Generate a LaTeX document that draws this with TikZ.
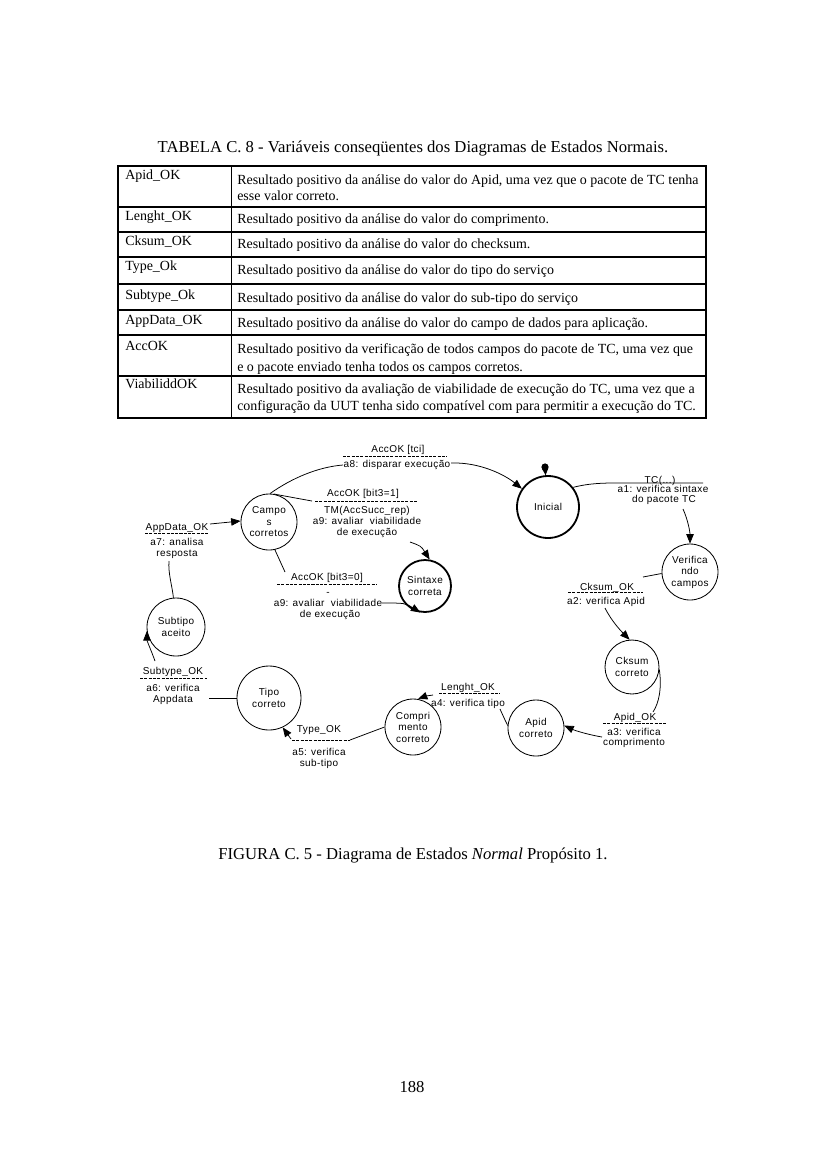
\documentclass[tikz,border=0pt]{standalone}
\usepackage{fontspec}
\setmainfont{Liberation Serif}
\newfontfamily\dgfont[LetterSpace=4]{Liberation Sans}
\usetikzlibrary{arrows.meta}
\begin{document}
\begin{tikzpicture}[x=0.72pt,y=-0.72pt,
  dg/.style={font=\dgfont\fontsize{7.2}{8.3}\selectfont},
  st/.style={circle,draw,line width=0.6pt,inner sep=0pt,minimum size=#1*1.44pt,dg,align=center},
  stb/.style={st=#1,line width=1.3pt},
  lb/.style={dg,inner sep=0pt,anchor=base},
  sepl/.style={line width=0.45pt,dash pattern=on 2.2pt off 0.9pt},
  tr/.style={line width=0.55pt},
  arr/.style={tr,-{Triangle[length=6.8pt,width=5.4pt]}},
  tb/.style={font=\fontsize{10.05}{11}\selectfont,inner sep=0pt,anchor=base west},
  captxt/.style={font=\fontsize{12}{14}\selectfont,inner sep=0pt}]
\useasboundingbox (0,0) rectangle (826,1169);

% ---------- table ----------
\node[captxt] (title) at (413,148) {TABELA C. 8 - Variáveis conseqüentes dos Diagramas de Estados Normais.};
\draw[line width=0.8pt] (118,166) rectangle (706,418);
\draw[line width=0.6pt] (231,166) -- (231,418);
\foreach \yy in {207,232,257,284,310,335,376}
  \draw[line width=0.8pt] (118,\yy) -- (706,\yy);
\node[tb] (k1) at (125,179) {Apid\_OK};
\node[tb] (k2) at (125,220) {Lenght\_OK};
\node[tb] (k3) at (125,245) {Cksum\_OK};
\node[tb] (k4) at (125,270) {Type\_Ok};
\node[tb] (k5) at (125,299) {Subtype\_Ok};
\node[tb] (k6) at (125,324) {AppData\_OK};
\node[tb] (k7) at (125,350) {AccOK};
\node[tb] (k8) at (125,388) {ViabiliddOK};
\node[tb] (d1a) at (237,184) {Resultado positivo da análise do valor do Apid, uma vez que o pacote de TC tenha};
\node[tb] (d1b) at (237,200) {esse valor correto.};
\node[tb] (d2) at (237,223) {Resultado positivo da análise do valor do comprimento.};
\node[tb] (d3) at (237,248) {Resultado positivo da análise do valor do checksum.};
\node[tb] (d4) at (237,274) {Resultado positivo da análise do valor do tipo do serviço};
\node[tb] (d5) at (237,302) {Resultado positivo da análise do valor do sub-tipo do serviço};
\node[tb] (d6) at (237,327) {Resultado positivo da análise do valor do campo de dados para aplicação.};
\node[tb] (d7a) at (237,353) {Resultado positivo da verificação de todos campos do pacote de TC, uma vez que};
\node[tb] (d7b) at (237,371) {e o pacote enviado tenha todos os campos corretos.};
\node[tb] (d8a) at (237,393) {Resultado positivo da avaliação de viabilidade de execução do TC, uma vez que a};
\node[tb] (d8b) at (237,410) {configuração da UUT tenha sido compatível com para permitir a execução do TC.};

% ---------- states ----------
\node[stb=31] (ini) at (548,507) {Inicial};
\node[circle,fill,inner sep=0pt,minimum size=5.2pt] (dot) at (545,467) {};
\node[st=28] (ver) at (690,572) {Verifica\\ndo\\campos};
\node[st=27] (cks) at (632,667) {Cksum\\correto};
\node[st=28] (apid) at (536,728) {Apid\\correto};
\node[st=28] (comp) at (413,727) {Compri\\mento\\correto};
\node[st=32] (tipo) at (269,698) {Tipo\\correto};
\node[st=29] (sub) at (176,627) {Subtipo\\aceito};
\node[st=28] (camp) at (269,522) {Campo\\s\\corretos};
\node[stb=26] (sint) at (425,586) {Sintaxe\\correta};

\draw[tr,-{Triangle[length=5pt,width=4.5pt]}] (dot) -- (ini);

% ---------- a8 : Campos -> Inicial ----------
\node[lb] (l8a) at (398,452) {AccOK [tci]};
\coordinate (s8l) at (343,456); \coordinate (s8r) at (447,456);
\draw[sepl] (s8l) -- (s8r);
\node[lb] (l8b) at (397,467) {a8: disparar execução};
\coordinate (a8L) at (343,465); \coordinate (a8R) at (451,463);
\draw[tr] (camp.88) .. controls (292,478) and (318,467) .. (a8L);
\draw[arr] (a8R) .. controls (480,462) and (505,475) .. (ini.145);

% ---------- a1 : Inicial -> Verificando ----------
\node[lb] (l1a) at (660,483) {TC(...)};
\node[lb] (l1b) at (663,492) {a1: verifica sintaxe};
\node[lb] (l1c) at (664,502) {do pacote TC};
\coordinate (tcL) at (617,483); \coordinate (tcR) at (703,483);
\coordinate (tcB) at (683,509);
\draw[tr] (ini.38) .. controls (590,483) and (605,483) .. (tcL) -- (tcR);
\draw[arr] (tcB) .. controls (688,520) and (690,532) .. (ver.north);

% ---------- a2 : Verificando -> Cksum ----------
\node[lb] (l2a) at (607,590) {Cksum\_OK};
\coordinate (s2l) at (568,592); \coordinate (s2r) at (643,592);
\draw[sepl] (s2l) -- (s2r);
\node[lb] (l2b) at (606,604) {a2: verifica Apid};
\coordinate (ckR) at (643,577); \coordinate (ckB) at (605,608);
\draw[tr] (ver.183) -- (ckR);
\draw[arr] (ckB) .. controls (612,622) and (622,632) .. (cks.95);

% ---------- a3 : Cksum -> Apid ----------
\node[lb] (l3a) at (635,720) {Apid\_OK};
\coordinate (s3l) at (603,723); \coordinate (s3r) at (667,723);
\draw[sepl] (s3l) -- (s3r);
\node[lb] (l3b) at (634,735) {a3: verifica};
\node[lb] (l3c) at (634,745) {comprimento};
\coordinate (apT) at (653,712); \coordinate (apL) at (602,737);
\draw[tr] (cks.-5) .. controls (662,688) and (659,703) .. (apT);
\draw[arr] (apL) .. controls (590,735) and (576,731) .. (apid.5);

% ---------- a4 : Apid -> Comprimento ----------
\node[lb] (l4a) at (468,690) {Lenght\_OK};
\coordinate (s4l) at (439,693); \coordinate (s4r) at (500,693);
\draw[sepl] (s4l) -- (s4r);
\node[lb] (l4b) at (468,706) {a4: verifica tipo};
\coordinate (lnR) at (500,709); \coordinate (lnL) at (433,695);
\draw[tr] (apid.175) .. controls (505,720) .. (lnR);
\draw[arr] (lnL) .. controls (426,696) .. (comp.80);

% ---------- a5 : Comprimento -> Tipo ----------
\node[lb] (l5a) at (319,732) {Type\_OK};
\coordinate (s5l) at (292,740); \coordinate (s5r) at (350,740);
\draw[sepl] (s5l) -- (s5r);
\node[lb] (l5b) at (319,755) {a5: verifica};
\node[lb] (l5c) at (319,766) {sub-tipo};
\coordinate (tyR) at (350,740); \coordinate (tyL) at (291,739);
\draw[tr] (comp.180) -- (tyR);
\draw[arr] (tyL) -- (tipo.-65);

% ---------- a6 : Tipo -> Subtipo ----------
\node[lb] (l6a) at (173,674) {Subtype\_OK};
\coordinate (s6l) at (140,678); \coordinate (s6r) at (207,678);
\draw[sepl] (s6l) -- (s6r);
\node[lb] (l6b) at (173,691) {a6: verifica};
\node[lb] (l6c) at (173,702) {Appdata};
\coordinate (sbR) at (209,698); \coordinate (sbT) at (155,661);
\draw[tr] (tipo.180) -- (sbR);
\draw[arr] (sbT) .. controls (151,650) and (147,641) .. (sub.188);

% ---------- a7 : Subtipo -> Campos ----------
\node[lb] (l7a) at (177,530) {AppData\_OK};
\coordinate (s7l) at (145,533); \coordinate (s7r) at (209,533);
\draw[sepl] (s7l) -- (s7r);
\node[lb] (l7b) at (177,545) {a7: analisa};
\node[lb] (l7c) at (177,556) {resposta};
\coordinate (adB) at (169,561); \coordinate (adR) at (210,524);
\draw[tr] (sub.95) .. controls (172,585) and (168,573) .. (adB);
\draw[arr] (adR) -- (camp.178);

% ---------- a9 bit3=1 : Campos -> Sintaxe ----------
\node[lb] (l9a) at (363,496) {AccOK [bit3=1]};
\coordinate (s9l) at (315,501); \coordinate (s9r) at (418,501);
\draw[sepl] (s9l) -- (s9r);
\node[lb] (l9b) at (367,513) {TM(AccSucc\_rep)};
\node[lb] (l9c) at (367,524) {a9: avaliar\ \ viabilidade};
\node[lb] (l9d) at (367,535) {de execução};
\coordinate (b1L) at (312,501); \coordinate (b1B) at (410,542);
\draw[tr] (camp.80) .. controls (290,497) .. (b1L);
\draw[arr] (b1B) .. controls (421,546) .. (sint.80);

% ---------- a9 bit3=0 : Campos -> Sintaxe ----------
\node[lb] (l0a) at (327,580) {AccOK [bit3=0]};
\coordinate (s0l) at (277,584); \coordinate (s0r) at (377,584);
\draw[sepl] (s0l) -- (s0r);
\node[lb] (l0b) at (328,595) {-};
\node[lb] (l0c) at (328,606) {a9: avaliar\ \ viabilidade};
\node[lb] (l0d) at (330,617) {de execução};
\coordinate (b0T) at (285,572); \coordinate (b0R) at (382,603);
\draw[tr] (camp.-78) -- (b0T);
\draw[arr] (b0R) .. controls (405,603) .. (sint.-100);

% ---------- captions ----------
\node[captxt] (fig) at (413,855) {FIGURA C. 5 - Diagrama de Estados \textit{Normal} Propósito 1.};
\node[captxt] (pg) at (412,1087) {188};
\end{tikzpicture}
\end{document}
